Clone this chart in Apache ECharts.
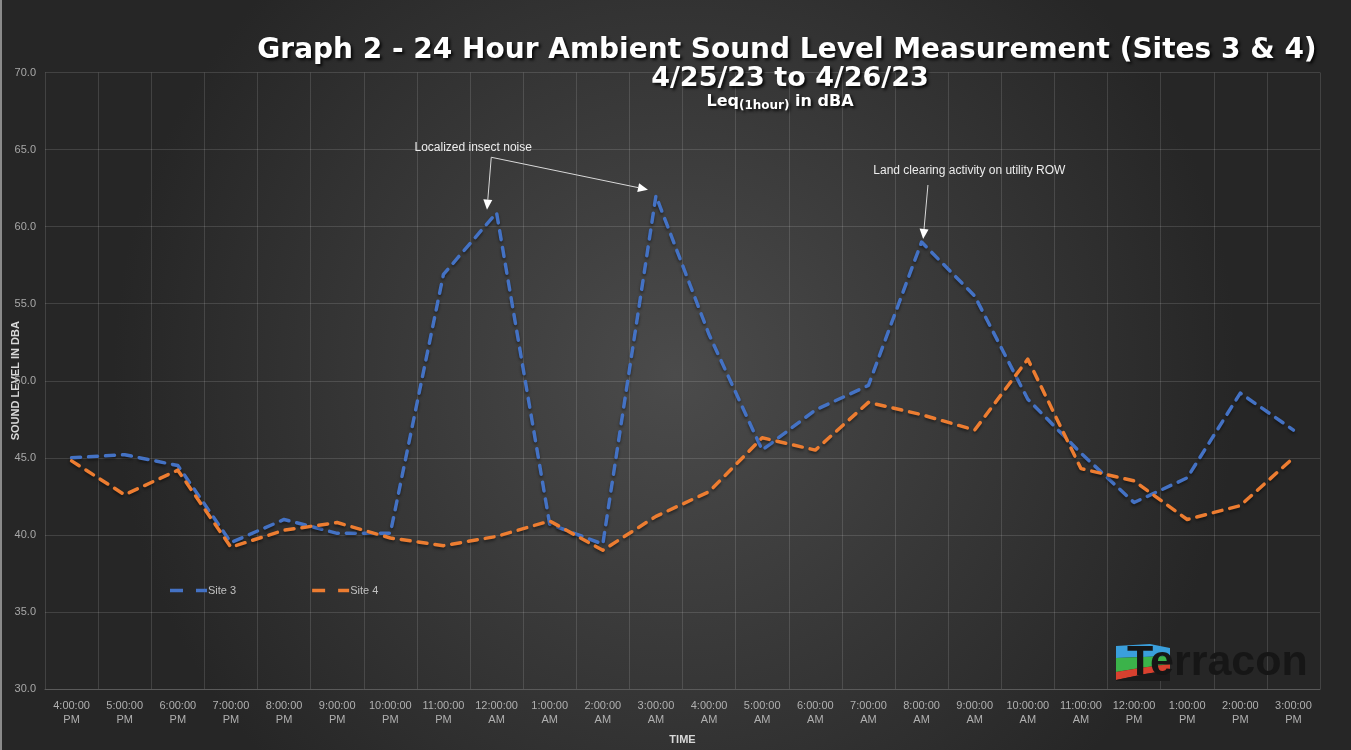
<!DOCTYPE html>
<html>
<head>
<meta charset="utf-8">
<script src="https://cdn.jsdelivr.net/npm/echarts@6/dist/echarts.min.js"></script>
<style>html,body{margin:0;padding:0;background:#2a2a2a;}#c{width:1351px;height:750px;}</style>
</head>
<body>
<div id="c"></div>
<script>
const categories = ['4:00:00\nPM','5:00:00\nPM','6:00:00\nPM','7:00:00\nPM','8:00:00\nPM','9:00:00\nPM','10:00:00\nPM','11:00:00\nPM','12:00:00\nAM','1:00:00\nAM','2:00:00\nAM','3:00:00\nAM','4:00:00\nAM','5:00:00\nAM','6:00:00\nAM','7:00:00\nAM','8:00:00\nAM','9:00:00\nAM','10:00:00\nAM','11:00:00\nAM','12:00:00\nPM','1:00:00\nPM','2:00:00\nPM','3:00:00\nPM'];
const site3 = [45.0, 45.2, 44.5, 39.5, 41.0, 40.1, 40.1, 56.9, 60.9, 40.7, 39.4, 62.0, 53.0, 45.5, 48.1, 49.7, 59.0, 55.5, 48.8, 45.3, 42.1, 43.7, 49.2, 46.8];
const site4 = [44.8, 42.6, 44.2, 39.2, 40.3, 40.8, 39.8, 39.3, 39.9, 40.9, 39.0, 41.2, 42.8, 46.3, 45.5, 48.6, 47.8, 46.8, 51.4, 44.3, 43.5, 41.0, 41.9, 45.0];
const yTicks = {min: 30, max: 70, interval: 5};
// annotations: [category index, value]
const insectText = {label: 'Localized insect noise', at: [7.56, 65.1]};
const insectArrows = [[[7.9, 64.5], [7.82, 61.1]], [[7.9, 64.5], [10.85, 62.4]]];
const landText = {label: 'Land clearing activity on utility ROW', at: [16.9, 63.6]};
const landArrows = [[[16.12, 62.7], [16.03, 59.2]]];

const chart = echarts.init(document.getElementById('c'), null, {renderer: 'canvas'});
const shadow = {textShadowColor: 'rgba(0,0,0,0.85)', textShadowBlur: 3, textShadowOffsetX: 2, textShadowOffsetY: 2};
const dashIcon = 'path://M0,0 H13 V3.5 H0 Z M26,0 H37 V3.5 H26 Z';
const option = {
  backgroundColor: {type: 'radial', x: 0.5, y: 0.5, r: 0.75, colorStops: [{offset: 0, color: '#4b4b4b'}, {offset: 1, color: '#262626'}]},
  animation: false,
  title: [
    {text: 'Graph 2 - 24 Hour Ambient Sound Level Measurement (Sites 3 & 4)', left: 787, top: 37, textAlign: 'center', padding: 0,
     textStyle: Object.assign({color: '#fff', fontFamily: 'DejaVu Sans', fontWeight: 'bold', fontSize: 28}, shadow)},
    {text: '4/25/23 to 4/26/23', left: 790, top: 65, textAlign: 'center', padding: 0,
     textStyle: Object.assign({color: '#fff', fontFamily: 'DejaVu Sans', fontWeight: 'bold', fontSize: 27}, shadow)},
    {text: 'Leq{sub|(1hour)} in dBA', left: 780, top: 91, textAlign: 'center', padding: 0,
     textStyle: Object.assign({color: '#fff', fontFamily: 'DejaVu Sans', fontWeight: 'bold', fontSize: 16,
       rich: {sub: Object.assign({color: '#fff', fontFamily: 'DejaVu Sans', fontWeight: 'bold', fontSize: 12, padding: [9, 0, 0, 0]}, shadow)}}, shadow)}
  ],
  legend: {
    left: 165, top: 580, itemWidth: 37, itemHeight: 3.5, itemGap: 76,
    textStyle: {color: '#c0c0c0', fontFamily: 'Liberation Sans', fontSize: 11, padding: [0, 0, 0, -4]},
    data: [{name: 'Site 3', icon: dashIcon, itemStyle: {color: '#4472C4'}}, {name: 'Site 4', icon: dashIcon, itemStyle: {color: '#ED7D31'}}]
  },
  grid: {left: 45, right: 31, top: 72.5, bottom: 61, containLabel: false, outerBoundsMode: 'none'},
  xAxis: {
    type: 'category', data: categories, boundaryGap: true,
    name: 'TIME', nameLocation: 'middle', nameGap: 45, nameMoveOverlap: false,
    nameTextStyle: {color: '#d8d8d8', fontFamily: 'Liberation Sans', fontWeight: 'bold', fontSize: 11},
    axisLine: {show: true, lineStyle: {color: '#5a5a5a'}},
    axisTick: {show: false},
    axisLabel: {color: '#b0b0b0', fontFamily: 'Liberation Sans', fontSize: 11, lineHeight: 14, margin: 10, interval: 0},
    splitLine: {show: true, interval: 0, lineStyle: {color: 'rgba(255,255,255,0.13)', width: 1}}
  },
  yAxis: {
    type: 'value', min: yTicks.min, max: yTicks.max, interval: yTicks.interval,
    name: 'SOUND LEVEL IN DBA', nameLocation: 'middle', nameGap: 24, nameRotate: 90, nameMoveOverlap: false,
    nameTextStyle: {color: '#d8d8d8', fontFamily: 'Liberation Sans', fontWeight: 'bold', fontSize: 11},
    axisLine: {show: false}, axisTick: {show: false},
    axisLabel: {color: '#a8a8a8', fontFamily: 'Liberation Sans', fontSize: 11, margin: 9, formatter: v => v.toFixed(1)},
    splitLine: {lineStyle: {color: 'rgba(255,255,255,0.13)', width: 1}}
  },
  series: [
    {name: 'Site 3', type: 'line', data: site3, symbol: 'none', color: '#4472C4',
     lineStyle: {color: '#4472C4', width: 3.5, type: [9, 8], cap: 'round', join: 'round', shadowColor: 'rgba(0,0,0,0.45)', shadowBlur: 3, shadowOffsetY: 2}},
    {name: 'Site 4', type: 'line', data: site4, symbol: 'none', color: '#ED7D31',
     lineStyle: {color: '#ED7D31', width: 3.5, type: [9, 8], cap: 'round', join: 'round', shadowColor: 'rgba(0,0,0,0.45)', shadowBlur: 3, shadowOffsetY: 2}}
  ]
};
chart.setOption(option);

// convert [fractional category index, value] to pixels by interpolating between neighbouring categories
function px(p) {
  const i0 = Math.floor(p[0]), f = p[0] - i0;
  const a = chart.convertToPixel({gridIndex: 0}, [i0, p[1]]);
  const b = chart.convertToPixel({gridIndex: 0}, [i0 + 1, p[1]]);
  return [a[0] + (b[0] - a[0]) * f, a[1]];
}
function arrow(a, b) {
  const p1 = px(a), p2 = px(b);
  const ang = Math.atan2(p2[1] - p1[1], p2[0] - p1[0]);
  const L = 10, W = 4.5;
  const bx = p2[0] - L * Math.cos(ang), by = p2[1] - L * Math.sin(ang);
  const nx = -Math.sin(ang), ny = Math.cos(ang);
  return [
    {type: 'line', shape: {x1: p1[0], y1: p1[1], x2: bx, y2: by}, style: {stroke: '#d9d9d9', lineWidth: 1}, z: 50},
    {type: 'polygon', shape: {points: [[p2[0], p2[1]], [bx + nx * W, by + ny * W], [bx - nx * W, by - ny * W]]}, style: {fill: '#ffffff'}, z: 50}
  ];
}
function label(t) {
  const p = px(t.at);
  return {type: 'text', x: p[0], y: p[1], style: {text: t.label, fill: '#ececec', font: '12px "Liberation Sans"', align: 'center', verticalAlign: 'middle'}, z: 50};
}
let g = [label(insectText), label(landText)];
insectArrows.concat(landArrows).forEach(a => { g = g.concat(arrow(a[0], a[1])); });
// logo
g.push(
  {type: 'polygon', shape: {points: [[1116, 646], [1150, 644], [1170, 648], [1170, 656], [1116, 658]]}, style: {fill: '#3a9fdc'}, z: 40},
  {type: 'polygon', shape: {points: [[1116, 658], [1170, 656], [1170, 664], [1140, 668], [1116, 672]]}, style: {fill: '#3bb34a'}, z: 40},
  {type: 'polygon', shape: {points: [[1116, 672], [1140, 668], [1170, 664], [1170, 670], [1145, 674], [1116, 680]]}, style: {fill: '#d8412f'}, z: 40},
  {type: 'polygon', shape: {points: [[1116, 680], [1145, 674], [1170, 670], [1170, 681], [1116, 681]]}, style: {fill: '#1b1b1b'}, z: 40},
  {type: 'text', x: 1127, y: 663, style: {text: 'Terracon', fill: '#161616', font: 'bold 43px "Liberation Sans"', align: 'left', verticalAlign: 'middle'}, z: 41},
  {type: 'rect', shape: {x: 0, y: 0, width: 2, height: 750}, style: {fill: '#8a8a8a'}, z: 60}
);
chart.setOption({graphic: g});
</script>
</body>
</html>
